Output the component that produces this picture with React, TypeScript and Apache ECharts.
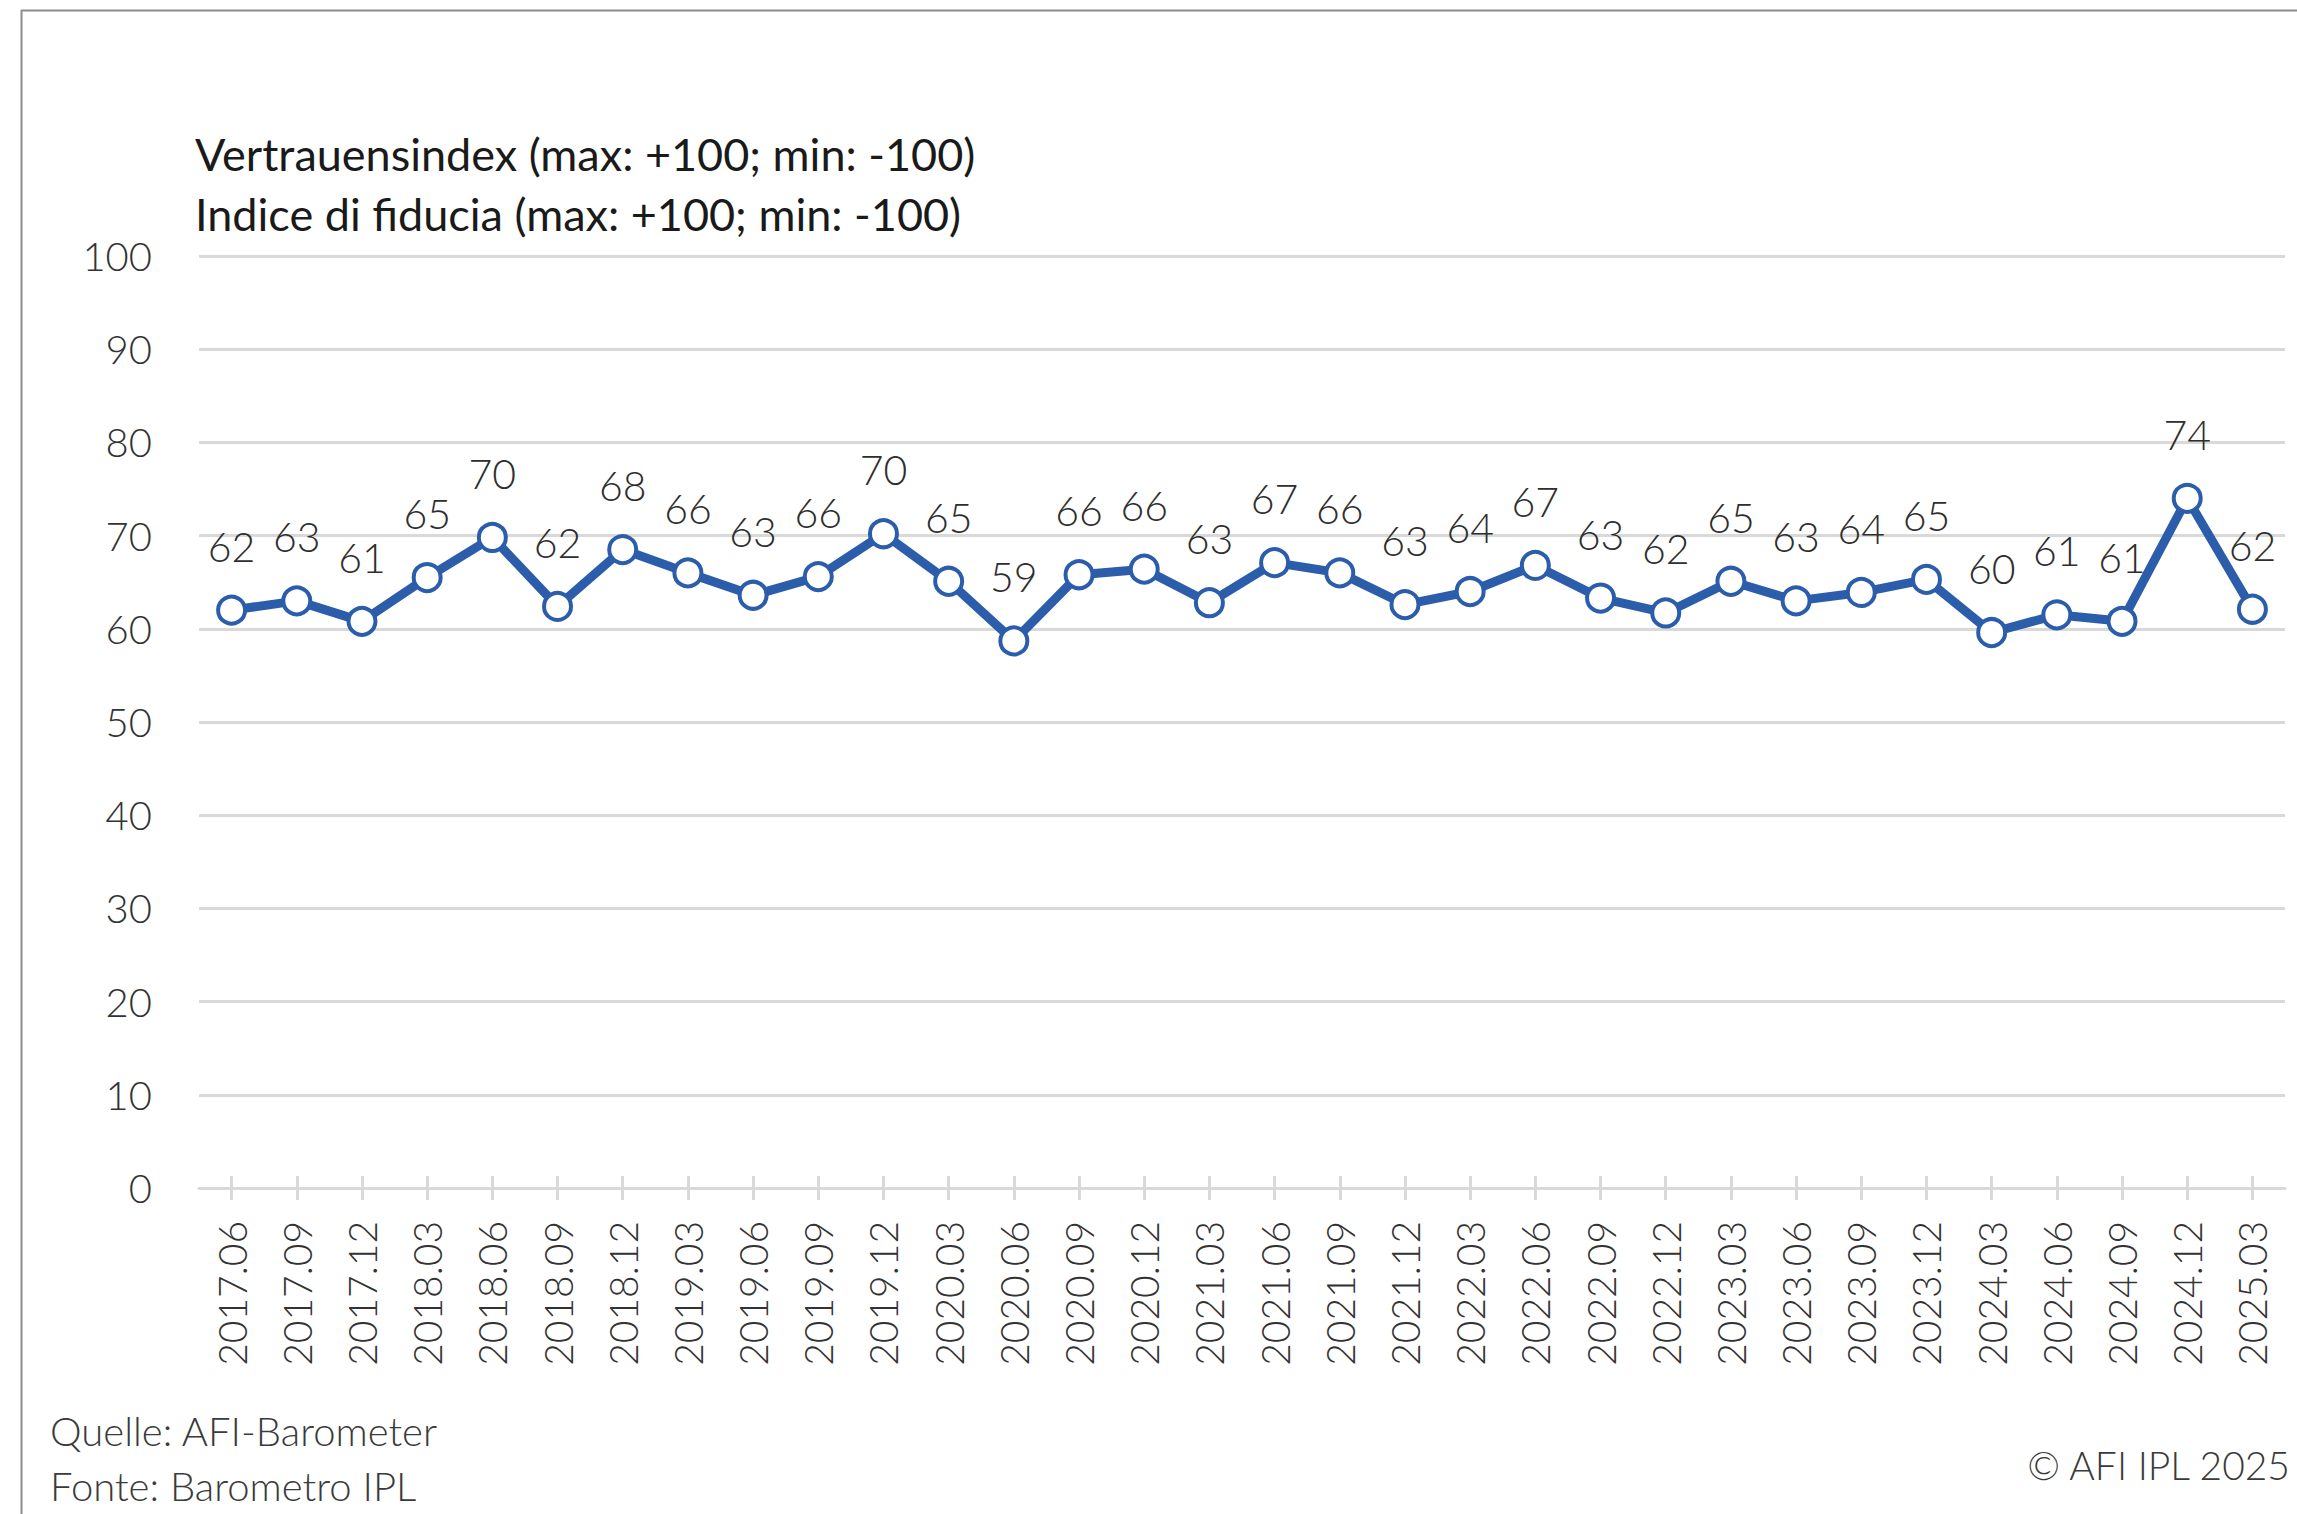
import React, { useEffect, useRef } from "react";
import * as echarts from "echarts";

const categories = [
  "2017.06", "2017.09", "2017.12", "2018.03", "2018.06", "2018.09", "2018.12",
  "2019.03", "2019.06", "2019.09", "2019.12", "2020.03", "2020.06", "2020.09",
  "2020.12", "2021.03", "2021.06", "2021.09", "2021.12", "2022.03", "2022.06",
  "2022.09", "2022.12", "2023.03", "2023.06", "2023.09", "2023.12", "2024.03",
  "2024.06", "2024.09", "2024.12", "2025.03",
];

// plotted positions
const values = [
  62.0, 63.0, 60.8, 65.5, 69.8, 62.4, 68.5, 66.0, 63.6, 65.6, 70.2, 65.1, 58.7,
  65.8, 66.4, 62.8, 67.1, 66.0, 62.6, 64.0, 66.8, 63.3, 61.7, 65.1, 63.0, 63.9,
  65.3, 59.6, 61.5, 60.8, 74.0, 62.1,
];

// data labels as printed
const labels = [
  62, 63, 61, 65, 70, 62, 68, 66, 63, 66, 70, 65, 59, 66, 66, 63, 67, 66, 63, 64,
  67, 63, 62, 65, 63, 64, 65, 60, 61, 61, 74, 62,
];

const yTicks = { min: 0, max: 100, interval: 10 };

const titleLines = [
  "Vertrauensindex (max: +100; min: -100)",
  "Indice di fiducia (max: +100; min: -100)",
];
const sourceLines = ["Quelle: AFI-Barometer", "Fonte: Barometro IPL"];
const copyright = "© AFI IPL 2025";

const FONT = "Lato, 'Noto Sans', sans-serif";
const BLUE = "#2b5dab";
const GRID = "#d9d9d9";

export default function App() {
  const ref = useRef<HTMLDivElement>(null);

  useEffect(() => {
    if (!ref.current) return;
    const chart = echarts.init(ref.current, undefined, { renderer: "svg" });
    const option: any = {
      animation: false,
      backgroundColor: "#ffffff",
      grid: { left: 199, right: 12, top: 256, bottom: 326, containLabel: false },
      xAxis: [
        {
          type: "category",
          data: categories,
          boundaryGap: true,
          axisLine: { show: true, lineStyle: { color: GRID, width: 3 } },
          axisTick: {
            show: true,
            alignWithLabel: true,
            length: 12,
            lineStyle: { color: GRID, width: 3 },
          },
          axisLabel: {
            rotate: 90,
            margin: 33,
            fontFamily: FONT,
            fontWeight: 300,
            fontSize: 39,
            color: "#333333",
          },
          splitLine: { show: false },
        },
        {
          type: "category",
          data: categories,
          position: "bottom",
          boundaryGap: true,
          axisLine: { show: false },
          axisTick: {
            show: true,
            inside: true,
            alignWithLabel: true,
            length: 12,
            lineStyle: { color: GRID, width: 3 },
          },
          axisLabel: { show: false },
          splitLine: { show: false },
        },
      ],
      yAxis: {
        type: "value",
        min: yTicks.min,
        max: yTicks.max,
        interval: yTicks.interval,
        axisLine: { show: false },
        axisTick: { show: false },
        axisLabel: {
          margin: 47,
          fontFamily: FONT,
          fontWeight: 300,
          fontSize: 40,
          color: "#333333",
        },
        splitLine: { show: true, lineStyle: { color: GRID, width: 3 } },
      },
      series: [
        {
          type: "line",
          xAxisIndex: 0,
          data: values,
          symbol: "circle",
          symbolSize: 27,
          lineStyle: { color: BLUE, width: 9 },
          itemStyle: { color: "#ffffff", borderColor: BLUE, borderWidth: 4 },
          label: {
            show: true,
            position: "top",
            distance: 28,
            fontFamily: FONT,
            fontWeight: 300,
            fontSize: 41,
            color: "#2e2e2e",
            formatter: (p: any) => String(labels[p.dataIndex]),
          },
          z: 5,
        },
      ],
      graphic: [
        {
          type: "line",
          shape: { x1: 21.5, y1: 10, x2: 21.5, y2: 1514 },
          style: { stroke: "#8c8c8c", lineWidth: 2 },
        },
        {
          type: "line",
          shape: { x1: 21, y1: 10.5, x2: 2297, y2: 10.5 },
          style: { stroke: "#8c8c8c", lineWidth: 2 },
        },
        ...titleLines.map((t, i) => ({
          type: "text",
          x: 195,
          y: 154 + i * 60,
          style: {
            text: t,
            font: `400 45px ${FONT}`,
            fill: "#1a1a1a",
            textAlign: "left",
            textVerticalAlign: "middle",
          },
        })),
        ...sourceLines.map((t, i) => ({
          type: "text",
          x: 50,
          y: 1431 + i * 55,
          style: {
            text: t,
            font: `300 40px ${FONT}`,
            fill: "#3a3a3a",
            textAlign: "left",
            textVerticalAlign: "middle",
          },
        })),
        {
          type: "text",
          x: 2290,
          y: 1465,
          style: {
            text: copyright,
            font: `300 39px ${FONT}`,
            fill: "#3a3a3a",
            textAlign: "right",
            textVerticalAlign: "middle",
          },
        },
      ],
    };
    chart.setOption(option);
    return () => chart.dispose();
  }, []);

  return (
    <div
      ref={ref}
      style={{ position: "absolute", left: 0, top: 0, width: 2297, height: 1514, background: "#fff" }}
    />
  );
}
